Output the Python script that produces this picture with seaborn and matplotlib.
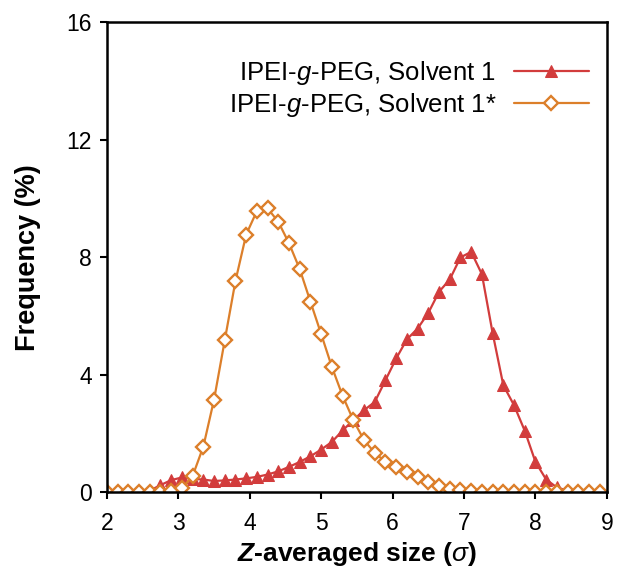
import numpy as np
import pandas as pd
import matplotlib
matplotlib.use("Agg")
import matplotlib.pyplot as plt
import seaborn as sns

# size grid (sigma), shared by both series
size = np.round(np.arange(2.0, 8.95, 0.15), 2)

# IPEI-g-PEG, Solvent 1
freq_solvent1 = [0, 0, 0, 0, 0.05, 0.24, 0.41, 0.5, 0.45, 0.43,
                 0.38, 0.4, 0.43, 0.47, 0.52, 0.6, 0.71, 0.86, 1.03, 1.22,
                 1.45, 1.71, 2.1, 2.45, 2.79, 3.07, 3.81, 4.55, 5.2, 5.57,
                 6.1, 6.82, 7.24, 7.99, 8.18, 7.42, 5.42, 3.64, 2.96, 2.09,
                 1.03, 0.43, 0.16, 0.05, 0, 0, 0]

# IPEI-g-PEG, Solvent 1*
freq_solvent1s = [0, 0, 0, 0, 0, 0, 0.05, 0.13, 0.55, 1.55,
                  3.15, 5.17, 7.19, 8.77, 9.57, 9.66, 9.2, 8.47, 7.59, 6.48,
                  5.38, 4.26, 3.28, 2.45, 1.77, 1.34, 1.03, 0.86, 0.69, 0.52,
                  0.35, 0.2, 0.12, 0.07, 0.04, 0.02, 0.02, 0.02, 0.02, 0.02,
                  0.02, 0.02, 0.02, 0.02, 0.02, 0.02, 0.02]

labels = ["IPEI-$\\it{g}$-PEG, Solvent 1", "IPEI-$\\it{g}$-PEG, Solvent 1*"]
colors = ["#d23c3c", "#dc7f2a"]

sns.set_style("ticks")
plt.rcParams["font.family"] = ["Liberation Sans", "DejaVu Sans"]
plt.rcParams["mathtext.fontset"] = "custom"
plt.rcParams["mathtext.rm"] = "Liberation Sans"
plt.rcParams["mathtext.it"] = "Liberation Sans:italic"
plt.rcParams["mathtext.bf"] = "Liberation Sans:bold"
plt.rcParams["mathtext.bfit"] = "Liberation Sans:bold:italic"
plt.rcParams["text.color"] = "black"
plt.rcParams["axes.labelcolor"] = "black"
plt.rcParams["xtick.color"] = "black"
plt.rcParams["ytick.color"] = "black"
plt.rcParams["axes.edgecolor"] = "black"

fig = plt.figure(figsize=(6.18, 5.67), dpi=100)
ax = fig.add_axes([0.173, 0.132, 0.809, 0.829])

sns.lineplot(x=size, y=freq_solvent1, ax=ax, color=colors[0], marker="^",
             markersize=9, markeredgecolor=colors[0], linewidth=1.6,
             label=labels[0])
sns.lineplot(x=size, y=freq_solvent1s, ax=ax, color=colors[1], marker="D",
             markersize=7.5, markerfacecolor="white", markeredgecolor=colors[1],
             markeredgewidth=1.7, linewidth=1.6, label=labels[1])

ax.set_xlim(2, 9)
ax.set_ylim(0, 16)
ax.set_xticks(range(2, 10))
ax.set_yticks([0, 4, 8, 12, 16])
ax.tick_params(labelsize=16.5, width=1.5, length=5, direction="out")
ax.tick_params(axis="x", pad=9)
ax.tick_params(axis="y", pad=6)
for sp in ax.spines.values():
    sp.set_linewidth(1.8)
    sp.set_visible(True)

ax.set_xlabel("$\\mathbfit{Z}$-averaged size ($\\sigma$)", fontsize=19,
              fontweight="bold", labelpad=4)
ax.set_ylabel("Frequency (%)", fontsize=19.5, fontweight="bold", labelpad=18)

ax.legend(loc="upper right", bbox_to_anchor=(1.01, 0.97), frameon=False,
          markerfirst=False, fontsize=18.5, handlelength=2.9, handletextpad=0.7,
          labelspacing=0.15)

fig.savefig("out.png", dpi=100)
